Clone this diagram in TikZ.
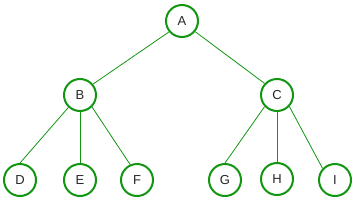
\documentclass[tikz,border=0pt]{standalone}
\usepackage{fontspec}
\setmainfont{Liberation Sans}
\usepackage{tikz}
\usetikzlibrary{positioning}
\definecolor{treegreen}{RGB}{18,150,18}

\begin{document}
\begin{tikzpicture}[
    x=1pt, y=-1pt,
    vert/.style={draw=treegreen, circle, line width=2pt, minimum size=32pt, inner sep=0pt, font=\fontsize{13}{13}\selectfont, text=black!85},
    edge/.style={draw=treegreen, line width=0.8pt}
  ]
    \useasboundingbox (0,0) rectangle (355,201);
    \node[vert] (a) at (182,21) {A};
    \node[vert] (b) at (80,95) {B};
    \node[vert] (c) at (277,95) {C};
    \node[vert] (d) at (20,180) {D};
    \node[vert] (e) at (80,180) {E};
    \node[vert] (f) at (137,180) {F};
    \node[vert] (g) at (225,180) {G};
    \node[vert] (h) at (277,179) {H};
    \node[vert] (i) at (335,180) {I};

    \draw[edge] (a.220) -- (b.40);
    \draw[edge] (a.321) -- (c.137);
    \draw[edge] (b.227) -- (d.north);
    \draw[edge] (b.south) -- (e.north);
    \draw[edge] (b.315) -- (f.114);
    \draw[edge] (c.223) -- (g.north);
    \draw[edge] (c.south) -- (h.north);
    \draw[edge] (c.317) -- (i.137);
  \end{tikzpicture}
\end{document}
